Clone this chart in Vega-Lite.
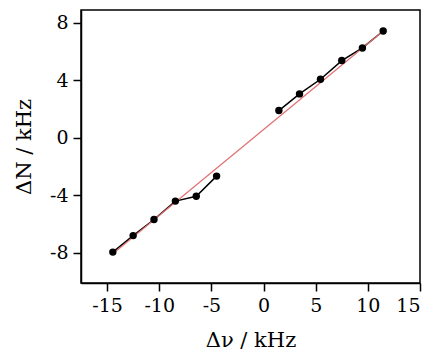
{
  "$schema": "https://vega.github.io/schema/vega-lite/v6.json",
  "width": 339,
  "height": 273,
  "autosize": {"type": "none"},
  "padding": {"left": 81, "top": 10, "right": 11, "bottom": 69},
  "background": "white",
  "config": {
    "view": {"stroke": "black", "strokeWidth": 1.5},
    "font": "DejaVu Serif",
    "axis": {
      "grid": false,
      "domainColor": "black",
      "domainWidth": 1.5,
      "tickColor": "black",
      "tickWidth": 1.5,
      "tickSize": 8,
      "labelFont": "DejaVu Serif",
      "labelFontSize": 19,
      "labelColor": "black",
      "labelPadding": 5,
      "titleFont": "DejaVu Serif",
      "titleFontSize": 21,
      "titleFontWeight": "normal",
      "titleColor": "black"
    }
  },
  "datasets": {
    "pts": [
      {"dv": -14.45, "dN": -7.95, "seg": "a"},
      {"dv": -12.5, "dN": -6.8, "seg": "a"},
      {"dv": -10.5, "dN": -5.68, "seg": "a"},
      {"dv": -8.45, "dN": -4.4, "seg": "a"},
      {"dv": -6.45, "dN": -4.06, "seg": "a"},
      {"dv": -4.5, "dN": -2.66, "seg": "a"},
      {"dv": 1.47, "dN": 1.9, "seg": "b"},
      {"dv": 3.45, "dN": 3.06, "seg": "b"},
      {"dv": 5.46, "dN": 4.08, "seg": "b"},
      {"dv": 7.5, "dN": 5.38, "seg": "b"},
      {"dv": 9.48, "dN": 6.26, "seg": "b"},
      {"dv": 11.47, "dN": 7.44, "seg": "b"}
    ],
    "fit": [
      {"dv": -14.45, "dN": -8.07},
      {"dv": 11.47, "dN": 7.44}
    ]
  },
  "layer": [
    {
      "data": {"name": "pts"},
      "mark": {"type": "line", "color": "black", "strokeWidth": 1.5},
      "encoding": {
        "x": {"field": "dv", "type": "quantitative"},
        "y": {"field": "dN", "type": "quantitative"},
        "detail": {"field": "seg"}
      }
    },
    {
      "data": {"name": "fit"},
      "mark": {"type": "line", "color": "#e07070", "strokeWidth": 1.2},
      "encoding": {
        "x": {"field": "dv", "type": "quantitative"},
        "y": {"field": "dN", "type": "quantitative"}
      }
    },
    {
      "data": {"name": "pts"},
      "mark": {"type": "point", "filled": true, "color": "black", "opacity": 1, "size": 55},
      "encoding": {
        "x": {
          "field": "dv", "type": "quantitative",
          "scale": {"domain": [-17.5, 15], "nice": false, "zero": false},
          "axis": {"values": [-15, -10, -5, 0, 5, 10, 15], "labelExpr": "'' + datum.value", "title": "Δν / kHz", "titlePadding": 14}
        },
        "y": {
          "field": "dN", "type": "quantitative",
          "scale": {"domain": [-10.1, 8.9], "nice": false, "zero": false},
          "axis": {"values": [-8, -4, 0, 4, 8], "labelExpr": "'' + datum.value", "title": "ΔN / kHz", "titlePadding": 15}
        }
      }
    }
  ]
}
